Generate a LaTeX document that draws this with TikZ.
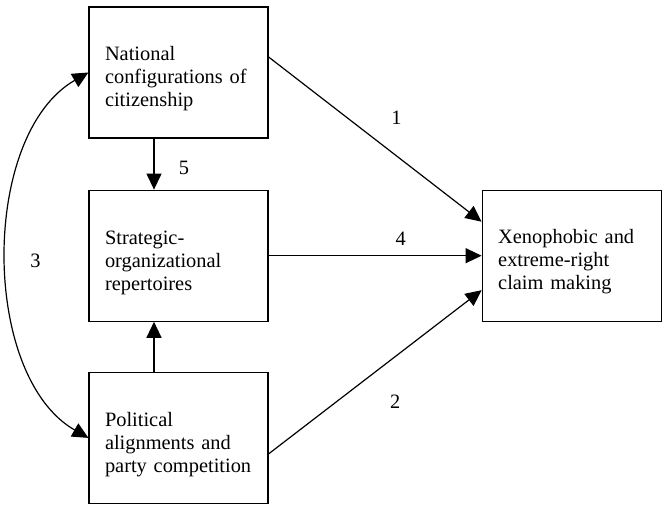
\documentclass[tikz,border=0pt]{standalone}
\usepackage{fontspec}
\setmainfont{Liberation Serif}
\usetikzlibrary{positioning}
\usetikzlibrary{arrows.meta}
\tikzset{
    factorBox/.style={draw, rectangle, line width=1.2pt, minimum width=179pt, minimum height=131pt, text width=147pt, inner xsep=16pt, align=left, execute at begin node={\rule{0pt}{27pt}}},
    causalArrow/.style={-{Triangle[length=16pt, width=15pt]}, line width=1.2pt},
    mutualArrow/.style={{Triangle[length=16pt, width=15pt]}-{Triangle[length=16pt, width=15pt]}, line width=1.2pt},
    pathLabel/.style={inner sep=0pt}
}

\begin{document}
\begin{tikzpicture}[x=1pt, y=1pt, font=\fontsize{20.4}{23}\selectfont]
    \useasboundingbox (0,0) rectangle (672,511);

    \node (national) [factorBox] at (178.5,438.5) {National\\configurations of\\citizenship};
    \node (strategic) [factorBox, below=51pt of national] {Strategic-\\organizational\\repertoires};
    \node (political) [factorBox, below=50pt of strategic] {Political\\alignments and\\party competition};
    \node (claims) [factorBox, right=213pt of strategic] {Xenophobic and\\extreme-right\\claim making};

    \draw [causalArrow] ([yshift=15.5pt]national.east) -- ([yshift=34pt]claims.west) node [pathLabel, pos=0.6, yshift=38pt] {1};
    \draw [causalArrow] (strategic.east) -- (claims.west) node [pathLabel, pos=0.62, yshift=17pt] {4};
    \draw [causalArrow] ([yshift=-16pt]political.east) -- ([yshift=-34.5pt]claims.west) node [pathLabel, pos=0.594, yshift=-45pt] {2};

    \draw [causalArrow] ([xshift=-24.5pt]national.south) -- ([xshift=-24.5pt]strategic.north) node [pathLabel, pos=0.58, xshift=30pt] {5};
    \draw [causalArrow] ([xshift=-24.5pt]political.north) -- ([xshift=-24.5pt]strategic.south);

    \draw [mutualArrow] (political.west) .. controls +(-108pt,62pt) and ([shift={(-108pt,-62pt)}]national.west) .. (national.west) node [pathLabel, pos=0.5, xshift=28pt, yshift=-6pt] {3};

\end{tikzpicture}
\end{document}
